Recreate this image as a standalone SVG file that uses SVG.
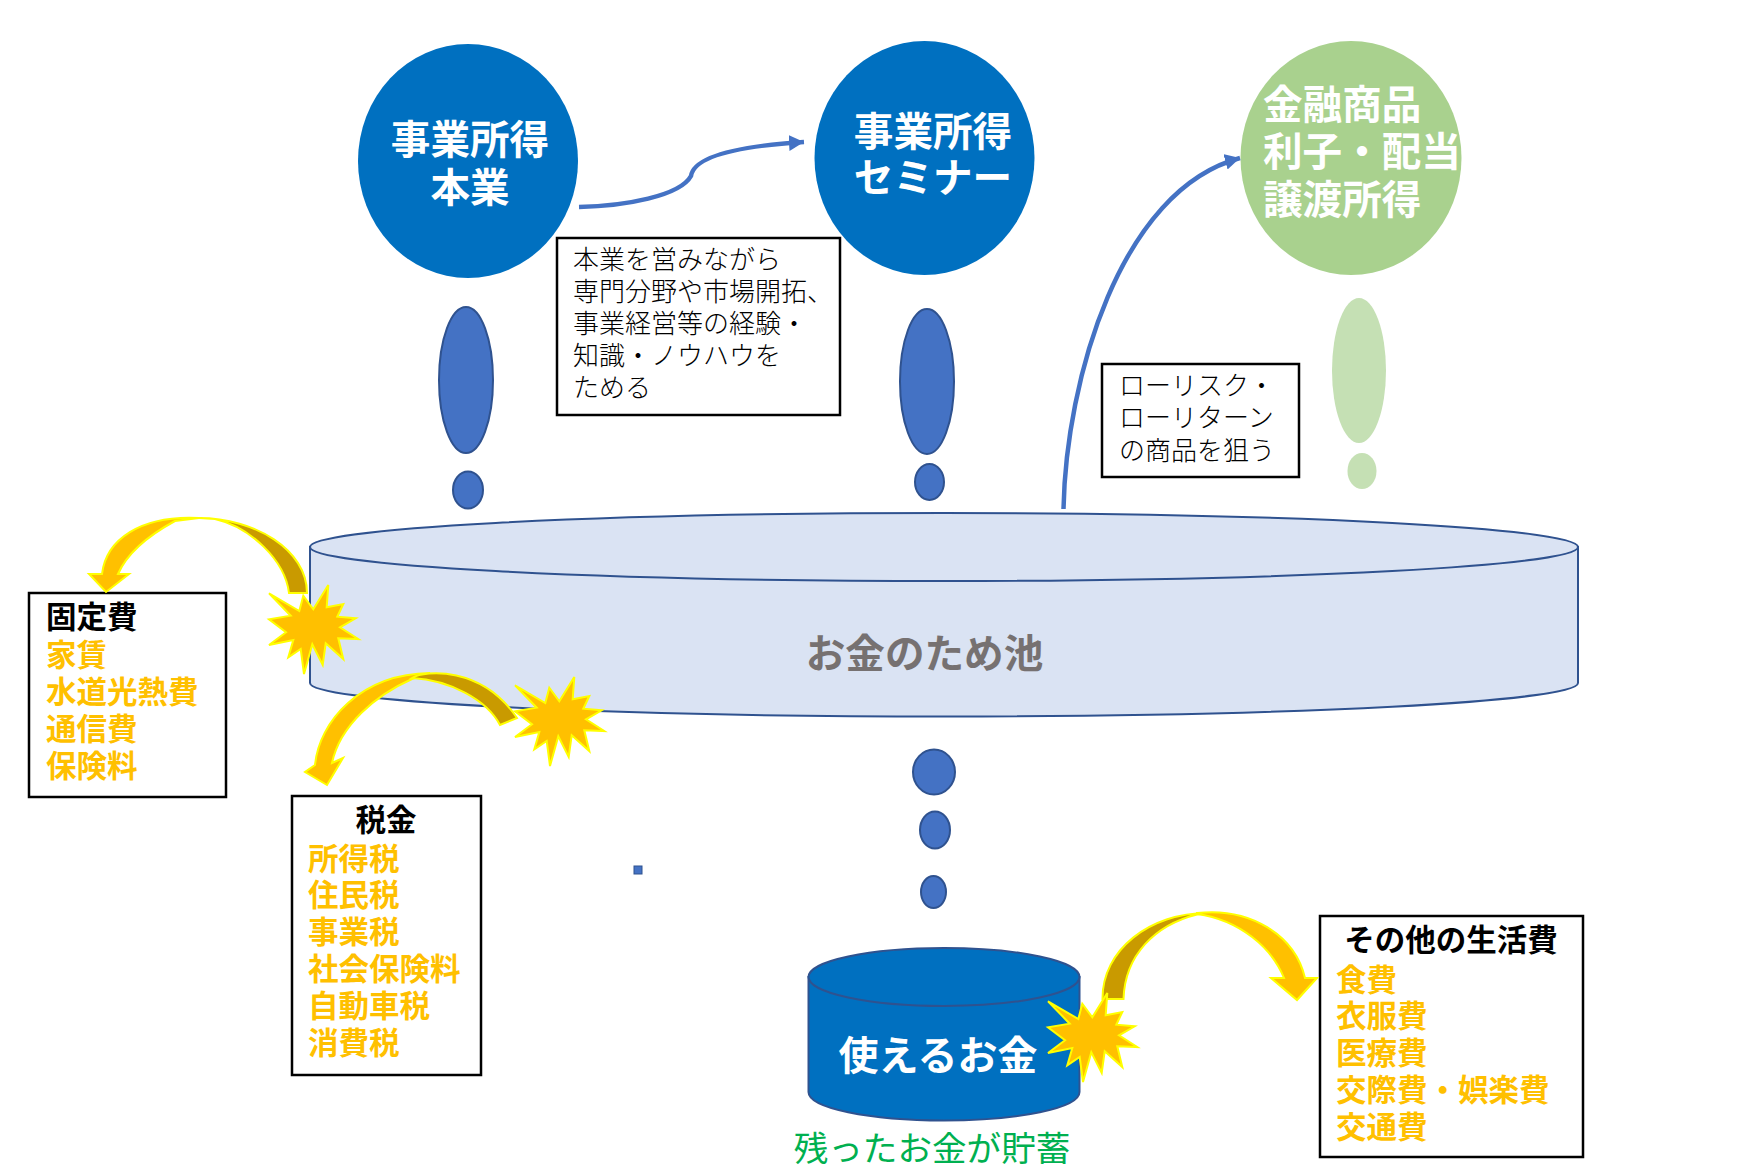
<svg xmlns="http://www.w3.org/2000/svg" width="1763" height="1173" viewBox="0 0 1763 1173">
<style>
text{font-family:"Noto Sans CJK JP","Noto Sans",sans-serif}
.c{font-size:39.6px;font-weight:700;fill:#fff;text-anchor:middle}
.l{font-size:39.6px;font-weight:700;fill:#fff}
.box{fill:#fff;stroke:#000;stroke-width:2.5}
.n{font-size:26px;font-weight:300;fill:#000}
.h{font-size:30.5px;font-weight:700;fill:#000}
.y{font-size:30.5px;font-weight:700;fill:#FFC000}
.blue{fill:#4472C4;stroke:#2F528F;stroke-width:2}
.green{fill:#C5E0B4}
.star{fill:#FFC000;stroke:#FFFF00;stroke-width:2}
.arm{fill:#FFC000;stroke:#FFFF00;stroke-width:2;stroke-linejoin:miter}
.arm2{fill:#C99A00;stroke:#FFFF00;stroke-width:2}
.link{fill:none;stroke:#4472C4;stroke-width:4.5}
</style>
<defs>
<marker id="tip" markerUnits="userSpaceOnUse" markerWidth="17" markerHeight="18" refX="15" refY="8" orient="auto"><path d="M0 0L15 8L0 16Z" fill="#4472C4"/></marker>
<polygon id="burst" points="9,18.300 39.300,36 43.300,20.700 53.300,34.300 68.300,10 66.700,32.300 83.300,29 77.300,41.700 95.700,43.300 80,52.300 98.300,64 78.300,63.300 83.300,84 65.700,68.300 62.700,90 52.300,69.300 44,99 40.700,74 28.300,82.300 33.300,65 9,70 26,57.300 9,44.300 30.700,40.700"/>
</defs>

<g id="income-main">
<ellipse cx="468" cy="161" rx="110" ry="117" fill="#0070C0"/>
<text class="c" x="470" y="154">事業所得</text>
<text class="c" x="470" y="202">本業</text>
</g>
<g id="income-seminar">
<ellipse cx="924.500" cy="158" rx="110" ry="117" fill="#0070C0"/>
<text class="c" x="933" y="146">事業所得</text>
<text class="c" x="933" y="192">セミナー</text>
</g>
<g id="income-finance">
<ellipse cx="1351" cy="158" rx="110.500" ry="117" fill="#A9D18E"/>
<text class="l" x="1263" y="119">金融商品</text>
<text class="l" x="1263" y="166">利子・配当</text>
<text class="l" x="1263" y="214">譲渡所得</text>
</g>

<g id="drop-main"><ellipse class="blue" cx="466" cy="380" rx="27" ry="73"/><ellipse class="blue" cx="468" cy="490" rx="15" ry="18.500"/></g>
<g id="drop-seminar"><ellipse class="blue" cx="927" cy="381.500" rx="27" ry="72.500"/><ellipse class="blue" cx="929.500" cy="482" rx="14.500" ry="18"/></g>
<g id="drop-finance"><ellipse class="green" cx="1359" cy="370.500" rx="27" ry="72.500"/><ellipse class="green" cx="1362" cy="471" rx="14.500" ry="18"/></g>

<g id="note-main">
<rect class="box" x="557" y="238" width="283" height="177"/>
<text class="n" x="573" y="269">本業を営みながら</text>
<text class="n" x="573" y="301">専門分野や市場開拓、</text>
<text class="n" x="573" y="333">事業経営等の経験・</text>
<text class="n" x="573" y="365">知識・ノウハウを</text>
<text class="n" x="573" y="397">ためる</text>
</g>
<g id="note-finance">
<rect class="box" x="1102" y="364" width="197" height="113"/>
<text class="n" x="1119" y="395">ローリスク・</text>
<text class="n" x="1119" y="427">ローリターン</text>
<text class="n" x="1119" y="460">の商品を狙う</text>
</g>

<g id="pool">
<path d="M310 547V683A634 33.500 0 0 0 1578 683V547Z" fill="#DAE3F3" stroke="#2F528F" stroke-width="2"/>
<ellipse cx="944" cy="547" rx="634" ry="34" fill="#DAE3F3" stroke="#2F528F" stroke-width="2"/>
<text x="924.500" y="668" font-size="39.600" font-weight="700" fill="#767171" text-anchor="middle">お金のため池</text>
</g>

<g id="flow-drops">
<ellipse class="blue" cx="934" cy="772" rx="21" ry="22.500"/>
<ellipse class="blue" cx="935" cy="830" rx="15" ry="18.500"/>
<ellipse class="blue" cx="933.500" cy="892" rx="12.500" ry="16"/>
</g>
<rect id="dot" x="634" y="866" width="8" height="8" fill="#4472C4" stroke="#2F528F"/>

<g id="savings">
<path d="M808.500 977V1092C808.500 1108 869 1120.500 944 1120.500S1079.500 1108 1079.500 1092V977Z" fill="#0070C0" stroke="#2F528F" stroke-width="2"/>
<ellipse cx="944" cy="977" rx="135.500" ry="29" fill="#0070C0" stroke="#2F528F" stroke-width="2"/>
<text x="938" y="1070" font-size="40" font-weight="700" fill="#fff" text-anchor="middle">使えるお金</text>
<text x="932" y="1161" font-size="34.600" fill="#00B050" text-anchor="middle">残ったお金が貯蓄</text>
</g>

<g id="fixed-costs">
<rect class="box" x="29" y="593" width="197" height="204"/>
<text class="h" x="46" y="628">固定費</text>
<text class="y" x="46" y="666">家賃</text>
<text class="y" x="46" y="703">水道光熱費</text>
<text class="y" x="46" y="740">通信費</text>
<text class="y" x="46" y="777">保険料</text>
</g>
<g id="taxes">
<rect class="box" x="292" y="796" width="189" height="279"/>
<text class="h" x="386" y="831" text-anchor="middle">税金</text>
<text class="y" x="308" y="870">所得税</text>
<text class="y" x="308" y="906">住民税</text>
<text class="y" x="308" y="943">事業税</text>
<text class="y" x="308" y="980">社会保険料</text>
<text class="y" x="308" y="1017">自動車税</text>
<text class="y" x="308" y="1054">消費税</text>
</g>
<g id="other-costs">
<rect class="box" x="1320" y="916" width="263" height="241"/>
<text class="h" x="1451" y="951" text-anchor="middle">その他の生活費</text>
<text class="y" x="1336" y="991">食費</text>
<text class="y" x="1336" y="1027">衣服費</text>
<text class="y" x="1336" y="1064">医療費</text>
<text class="y" x="1336" y="1101">交際費・娯楽費</text>
<text class="y" x="1336" y="1138">交通費</text>
</g>

<g id="connectors">
<path class="link" marker-end="url(#tip)" d="M579 207C625 206 680 196 691 176C694 156 740 146 804 142"/>
<path class="link" marker-end="url(#tip)" d="M1063.500 509C1066 380 1120 190 1240 158"/>
<g id="arrow-fixed">
<path class="arm" d="M102 574C106 540 140 515 199 518L175 521C140 540 125 558 118 574L129 574L106 592L89 574Z"/>
<path class="arm2" d="M199 518C255 518 307 550 307 593H289C285 560 250 527 215 519Z"/>
</g>
<g id="arrow-tax">
<path class="arm" d="M315 765C319 722 360 674 430 673L412 679C376 695 340 725 332 763L343 758L327 785L305 772Z"/>
<path class="arm2" d="M412 678C425 670 482 666 517 718L500 725C487 700 450 680 412 678Z"/>
</g>
<g id="arrow-other">
<path class="arm2" d="M1102.500 999C1102 950 1150 913 1207 913L1197 914.500C1155 925 1125 955 1123.500 999Z"/>
<path class="arm" d="M1197 913C1250 907 1295 935 1305 978H1317L1297 1000L1271 978H1284C1272 948 1240 920 1197 914Z"/>
</g>
</g>

<g id="bursts">
<use class="star" href="#burst" x="260" y="575"/>
<use class="star" href="#burst" x="506" y="667"/>
<use class="star" href="#burst" x="1039" y="983"/>
</g>
</svg>
